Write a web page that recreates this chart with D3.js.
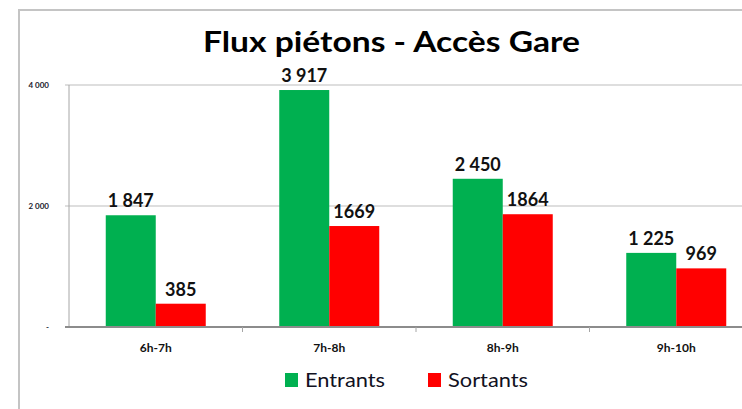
<!DOCTYPE html>
<html>
<head>
<meta charset="utf-8">
<script src="https://cdn.jsdelivr.net/npm/d3@7"></script>
<style>
  html, body { margin: 0; padding: 0; background: #ffffff; }
  svg { display: block; }
  text { font-family: Lato, "Open Sans", sans-serif; }
</style>
</head>
<body>
<svg id="chart" width="742" height="409"></svg>
<script>
// Hourly pedestrian flows at the station entrance
const categories = ["6h-7h", "7h-8h", "8h-9h", "9h-10h"];
const seriesNames = ["Entrants", "Sortants"];
const entrants = [1847, 3917, 2450, 1225];
const sortants = [385, 1669, 1864, 969];
// Value labels as printed above each bar
const entrantsLabels = ["1 847", "3 917", "2 450", "1 225"];
const sortantsLabels = ["385", "1669", "1864", "969"];
const yTicks = [0, 2000, 4000];
const yTickLabels = ["-", "2 000", "4 000"];
const colors = { Entrants: "#00b050", Sortants: "#ff0000" };

const svg = d3.select("#chart");
const W = 742, H = 409;
const plot = { left: 69, right: 763, top: 85, bottom: 327 };

svg.append("rect").attr("width", W).attr("height", H).attr("fill", "#ffffff");

// chart area frame (left and top edges)
svg.append("path")
  .attr("d", `M19,${H} V10 H${W}`)
  .attr("fill", "none")
  .attr("stroke", "#c4c4c4")
  .attr("stroke-width", 2);

const x = d3.scaleBand().domain(categories).range([plot.left, plot.right]).padding(0);
const groupW = 100;
const xSub = d3.scaleBand().domain(seriesNames)
  .range([(x.bandwidth() - groupW) / 2, (x.bandwidth() + groupW) / 2]).padding(0);
const y = d3.scaleLinear().domain([0, 4000]).range([plot.bottom, plot.top]);

// horizontal gridlines
svg.append("g").selectAll("line")
  .data(yTicks.filter(d => d > 0))
  .join("line")
  .attr("x1", plot.left - 4).attr("x2", W)
  .attr("y1", d => y(d)).attr("y2", d => y(d))
  .attr("stroke", "#bdbdbd").attr("stroke-width", 1);

// value axis line
svg.append("line")
  .attr("x1", plot.left).attr("x2", plot.left)
  .attr("y1", y(4000)).attr("y2", y(0))
  .attr("stroke", "#a6a6a6").attr("stroke-width", 1);

// y tick labels
svg.append("g").selectAll("text")
  .data(yTicks)
  .join("text")
  .attr("x", 49)
  .attr("y", d => y(d) + 3)
  .attr("text-anchor", "end")
  .attr("font-size", 8)
  .attr("font-weight", 700)
  .attr("fill", "#1a1a2e")
  .text((d, i) => yTickLabels[i]);

// bars
const rows = categories.map((c, i) => ({
  cat: c,
  vals: [
    { s: "Entrants", v: entrants[i], label: entrantsLabels[i] },
    { s: "Sortants", v: sortants[i], label: sortantsLabels[i] }
  ]
}));

const groups = svg.append("g").selectAll("g")
  .data(rows)
  .join("g")
  .attr("transform", d => `translate(${x(d.cat)},0)`);

groups.selectAll("rect")
  .data(d => d.vals)
  .join("rect")
  .attr("x", d => xSub(d.s))
  .attr("width", xSub.bandwidth())
  .attr("y", d => y(d.v))
  .attr("height", d => y(0) - y(d.v))
  .attr("fill", d => colors[d.s]);

groups.selectAll("text")
  .data(d => d.vals)
  .join("text")
  .attr("x", d => xSub(d.s) + xSub.bandwidth() / 2)
  .attr("y", d => y(d.v) - 8)
  .attr("text-anchor", "middle")
  .attr("font-size", 18)
  .attr("font-weight", 700)
  .attr("fill", "#111111")
  .text(d => d.label);

// category axis baseline and ticks
svg.append("line")
  .attr("x1", plot.left - 4).attr("x2", W)
  .attr("y1", y(0)).attr("y2", y(0))
  .attr("stroke", "#8c8c8c").attr("stroke-width", 2);

svg.append("g").selectAll("line")
  .data(categories.slice(1))
  .join("line")
  .attr("x1", d => x(d)).attr("x2", d => x(d))
  .attr("y1", y(0)).attr("y2", y(0) + 5)
  .attr("stroke", "#a6a6a6");

svg.append("g").selectAll("text")
  .data(categories)
  .join("text")
  .attr("x", d => x(d) + x.bandwidth() / 2)
  .attr("y", 352)
  .attr("text-anchor", "middle")
  .attr("font-size", 12)
  .attr("font-weight", 700)
  .attr("fill", "#111111")
  .text(d => d);

// title
svg.append("text")
  .attr("x", 203)
  .attr("y", 52)
  .attr("font-size", 28)
  .attr("font-weight", 700)
  .attr("fill", "#000000")
  .attr("textLength", 377)
  .attr("lengthAdjust", "spacingAndGlyphs")
  .text("Flux piétons - Accès Gare");

// legend
const legendPos = { Entrants: 285, Sortants: 428 };
const legend = svg.append("g").selectAll("g")
  .data(seriesNames)
  .join("g")
  .attr("transform", d => `translate(${legendPos[d]},373)`);
legend.append("rect")
  .attr("width", 13).attr("height", 14)
  .attr("fill", d => colors[d]);
legend.append("text")
  .attr("x", 20)
  .attr("y", 14)
  .attr("font-size", 19)
  .attr("fill", "#111122")
  .attr("textLength", 80)
  .attr("lengthAdjust", "spacingAndGlyphs")
  .text(d => d);
</script>
</body>
</html>
